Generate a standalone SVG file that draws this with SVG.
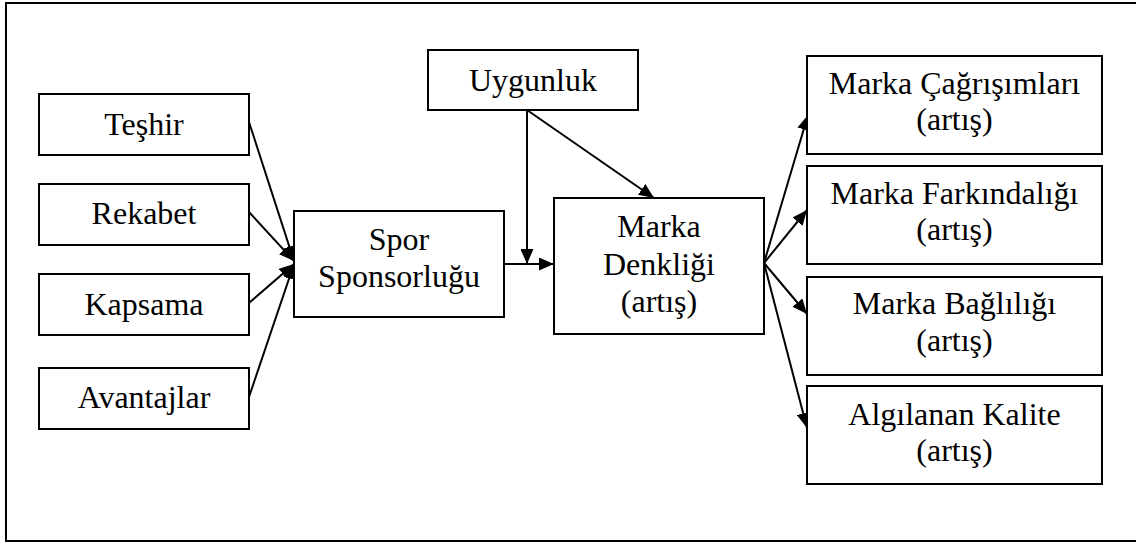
<svg xmlns="http://www.w3.org/2000/svg" width="1136" height="542" viewBox="0 0 1136 542">
  <style>
    .box { fill: #ffffff; stroke: #000000; stroke-width: 2; }
    .frame { fill: none; stroke: #000000; stroke-width: 2; }
    .lbl { font-family: "Liberation Serif", "Times New Roman", serif; font-size: 32px; fill: #000000; text-anchor: middle; }
    .edge { fill: none; stroke: #000000; stroke-width: 2; marker-end: url(#arrow); }
    .plain { fill: none; stroke: #000000; stroke-width: 2; }
  </style>
  <defs>
    <marker id="arrow" markerUnits="userSpaceOnUse" markerWidth="16" markerHeight="13" refX="15" refY="6.5" orient="auto">
      <path d="M0,0 L15,6.5 L0,13 Z" fill="#000000"/>
    </marker>
  </defs>

  <rect class="frame" x="6" y="3" width="1140" height="538"/>

  <!-- connectors -->
  <g id="connectors">
    <line class="edge" x1="249" y1="122" x2="294" y2="261"/>
    <line class="edge" x1="249" y1="212" x2="294" y2="261"/>
    <line class="edge" x1="249" y1="303" x2="294" y2="264"/>
    <line class="edge" x1="249" y1="397" x2="294" y2="264"/>
    <line class="edge" x1="504" y1="264" x2="554" y2="264"/>
    <line class="edge" x1="527" y1="110" x2="527" y2="264"/>
    <line class="edge" x1="527" y1="110" x2="654" y2="198"/>
    <line class="edge" x1="764" y1="263" x2="808" y2="115"/>
    <line class="edge" x1="764" y1="263" x2="807" y2="210"/>
    <line class="edge" x1="764" y1="263" x2="807" y2="314"/>
    <line class="edge" x1="764" y1="263" x2="807" y2="428"/>
  </g>

  <!-- left inputs -->
  <g id="teshir">
    <rect class="box" x="39" y="94" width="210" height="61"/>
    <text class="lbl" x="144" y="135">Teşhir</text>
  </g>
  <g id="rekabet">
    <rect class="box" x="39" y="184" width="210" height="61"/>
    <text class="lbl" x="144" y="224">Rekabet</text>
  </g>
  <g id="kapsama">
    <rect class="box" x="39" y="274" width="210" height="61"/>
    <text class="lbl" x="144" y="315">Kapsama</text>
  </g>
  <g id="avantajlar">
    <rect class="box" x="39" y="368" width="210" height="61"/>
    <text class="lbl" x="144" y="408">Avantajlar</text>
  </g>

  <!-- centre -->
  <g id="spor-sponsorlugu">
    <rect class="box" x="294" y="211" width="210" height="106"/>
    <text class="lbl" x="399" y="250">Spor</text>
    <text class="lbl" x="399" y="287">Sponsorluğu</text>
  </g>
  <g id="uygunluk">
    <rect class="box" x="428" y="50" width="210" height="60"/>
    <text class="lbl" x="533" y="91">Uygunluk</text>
  </g>
  <g id="marka-denkligi">
    <rect class="box" x="554" y="198" width="210" height="136"/>
    <text class="lbl" x="659" y="237">Marka</text>
    <text class="lbl" x="659" y="275">Denkliği</text>
    <text class="lbl" x="659" y="312">(artış)</text>
  </g>

  <!-- outcomes -->
  <g id="marka-cagrisimlari">
    <rect class="box" x="807" y="56" width="295" height="98"/>
    <text class="lbl" x="954.5" y="94">Marka Çağrışımları</text>
    <text class="lbl" x="954.5" y="130">(artış)</text>
  </g>
  <g id="marka-farkindaligi">
    <rect class="box" x="807" y="166" width="295" height="98"/>
    <text class="lbl" x="954.5" y="204">Marka Farkındalığı</text>
    <text class="lbl" x="954.5" y="240">(artış)</text>
  </g>
  <g id="marka-bagliligi">
    <rect class="box" x="807" y="277" width="295" height="98"/>
    <text class="lbl" x="954.5" y="314">Marka Bağlılığı</text>
    <text class="lbl" x="954.5" y="351">(artış)</text>
  </g>
  <g id="algilanan-kalite">
    <rect class="box" x="807" y="386" width="295" height="98"/>
    <text class="lbl" x="954.5" y="425">Algılanan Kalite</text>
    <text class="lbl" x="954.5" y="461">(artış)</text>
  </g>
</svg>
